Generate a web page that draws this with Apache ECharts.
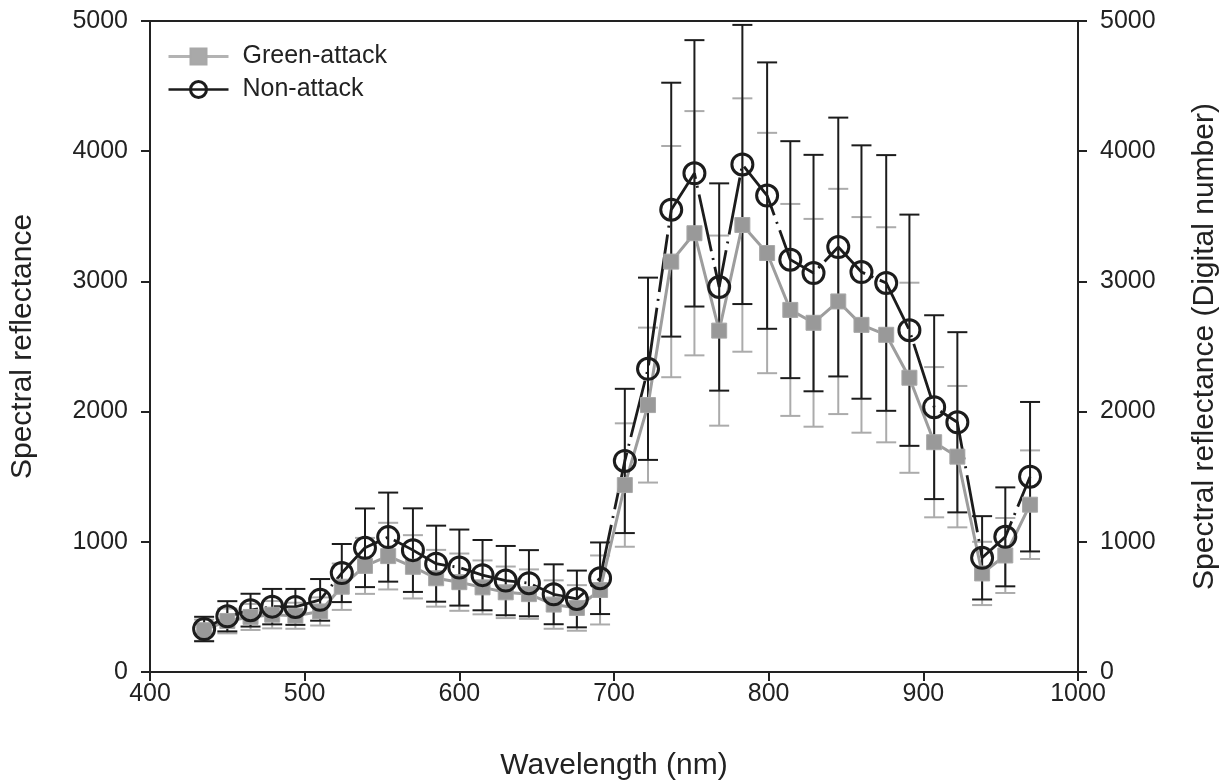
<!DOCTYPE html>
<html>
<head>
<meta charset="utf-8">
<script src="https://cdn.jsdelivr.net/npm/echarts@6/dist/echarts.min.js"></script>
<style>
  html, body { margin: 0; padding: 0; background: #fff; }
  #chart { width: 1228px; height: 780px; }
</style>
</head>
<body>
<div id="chart"></div>
<script>
// band centres (nm)
const wavelengths = [435, 450, 465, 479, 494, 510, 524, 539, 554, 570, 585, 600,
  615, 630, 645, 661, 676, 691, 707, 722, 737, 752, 768, 783, 799, 814, 829, 845,
  860, 876, 891, 907, 922, 938, 953, 969];

// green-attack: mean and SD
const greenMean = [321, 392, 423, 440, 432, 465, 655, 815, 890, 808, 720, 690,
  650, 612, 598, 518, 492, 630, 1436, 2050, 3152, 3370, 2622, 3433, 3218, 2781,
  2682, 2846, 2666, 2590, 2260, 1765, 1654, 757, 895, 1285];
const greenSd = [82, 95, 100, 105, 100, 108, 178, 215, 256, 243, 218, 220,
  207, 198, 190, 186, 175, 265, 474, 595, 888, 938, 730, 973, 923, 814,
  798, 865, 828, 826, 730, 577, 543, 243, 288, 417];

// non-attack: mean and SD
const nonMean = [330, 428, 475, 502, 500, 554, 760, 954, 1036, 936, 832, 802,
  744, 702, 682, 597, 561, 720, 1621, 2329, 3551, 3830, 2957, 3898, 3659, 3167,
  3064, 3264, 3072, 2988, 2625, 2034, 1918, 877, 1038, 1500];
const nonSd = [94, 116, 126, 136, 138, 160, 223, 302, 342, 321, 292, 292,
  270, 266, 254, 230, 218, 275, 554, 700, 975, 1023, 796, 1072, 1023, 910,
  908, 994, 973, 982, 888, 706, 692, 320, 380, 574];

const FONT = "'Liberation Sans', Arial, sans-serif";
const BLACK = '#1c1c1c';
const GRAY = '#9d9d9d';
const GRAY_BAR = '#ababab';

const errData = (mean, sd) => wavelengths.map((w, i) => [w, mean[i] - sd[i], mean[i] + sd[i]]);
const lineData = (mean) => wavelengths.map((w, i) => [w, mean[i]]);

const errorBars = (color, width) => (params, api) => {
  const x = api.value(0);
  const lo = api.coord([x, api.value(1)]);
  const hi = api.coord([x, api.value(2)]);
  const half = 10;
  const style = { stroke: color, lineWidth: width };
  return {
    type: 'group',
    children: [
      { type: 'line', shape: { x1: hi[0], y1: hi[1], x2: lo[0], y2: lo[1] }, style },
      { type: 'line', shape: { x1: hi[0] - half, y1: hi[1], x2: hi[0] + half, y2: hi[1] }, style },
      { type: 'line', shape: { x1: lo[0] - half, y1: lo[1], x2: lo[0] + half, y2: lo[1] }, style },
    ],
  };
};

const plain = (v) => String(v);
const axisText = { fontFamily: FONT, fontSize: 25, color: '#222' };
const nameText = { fontFamily: FONT, fontSize: 30, color: '#222' };

const yAxisBase = {
  type: 'value',
  min: 0,
  max: 5000,
  interval: 1000,
  nameLocation: 'middle',
  nameGap: 112,
  nameTextStyle: nameText,
  axisLine: { show: true, lineStyle: { color: '#222', width: 2 } },
  axisTick: { show: true, length: 9, lineStyle: { color: '#222', width: 2 } },
  axisLabel: { ...axisText, margin: 22, formatter: plain },
  splitLine: { show: false },
};

const chart = echarts.init(document.getElementById('chart'), null, { renderer: 'canvas' });

chart.setOption({
  animation: false,
  backgroundColor: '#fff',
  grid: {
    left: 150, right: 150, top: 21, bottom: 108,
    outerBoundsMode: 'none',
    containLabel: false,
    show: true, borderColor: '#222', borderWidth: 2,
  },
  legend: {
    orient: 'vertical',
    left: 167,
    top: 44,
    padding: 0,
    itemWidth: 60,
    itemHeight: 20,
    itemGap: 8,
    textStyle: { fontFamily: FONT, fontSize: 25, color: '#222', padding: [0, 0, 0, 9] },
    data: [
      { name: 'Green-attack', lineStyle: { width: 3, color: '#b3b3b3' }, itemStyle: { color: '#a9a9a9' } },
      {
        name: 'Non-attack',
        lineStyle: { type: 'solid', width: 2.5, color: BLACK, opacity: 1 },
        itemStyle: { color: 'rgba(0,0,0,0)', borderColor: BLACK, borderWidth: 3 },
      },
    ],
  },
  xAxis: {
    type: 'value',
    min: 400,
    max: 1000,
    interval: 100,
    name: 'Wavelength (nm)',
    nameLocation: 'middle',
    nameGap: 79,
    nameTextStyle: nameText,
    axisLine: { show: true, onZero: false, lineStyle: { color: '#222', width: 2 } },
    axisTick: { show: true, length: 9, lineStyle: { color: '#222', width: 2 } },
    axisLabel: { ...axisText, margin: 10, formatter: plain },
    splitLine: { show: false },
  },
  yAxis: [
    { ...yAxisBase, position: 'left', name: 'Spectral reflectance' },
    { ...yAxisBase, position: 'right', name: 'Spectral reflectance (Digital number)' },
  ],
  series: [
    {
      name: 'Green-attack SD',
      type: 'custom',
      renderItem: errorBars(GRAY_BAR, 2),
      encode: { x: 0, y: [1, 2] },
      data: errData(greenMean, greenSd),
      silent: true,
    },
    {
      name: 'Green-attack',
      type: 'line',
      data: lineData(greenMean),
      symbol: 'rect',
      symbolSize: 15,
      lineStyle: { color: GRAY, width: 3 },
      itemStyle: { color: '#999999', borderColor: '#a8a8a8', borderWidth: 1 },
    },
    {
      name: 'Non-attack SD',
      type: 'custom',
      renderItem: errorBars(BLACK, 2),
      encode: { x: 0, y: [1, 2] },
      data: errData(nonMean, nonSd),
      silent: true,
    },
    {
      name: 'Non-attack',
      type: 'line',
      data: lineData(nonMean),
      symbol: 'circle',
      symbolSize: 21,
      lineStyle: { color: BLACK, width: 2.8, type: [58, 7, 2, 7] },
      itemStyle: { color: 'rgba(0,0,0,0)', borderColor: BLACK, borderWidth: 3 },
    },
  ],
});
</script>
</body>
</html>
